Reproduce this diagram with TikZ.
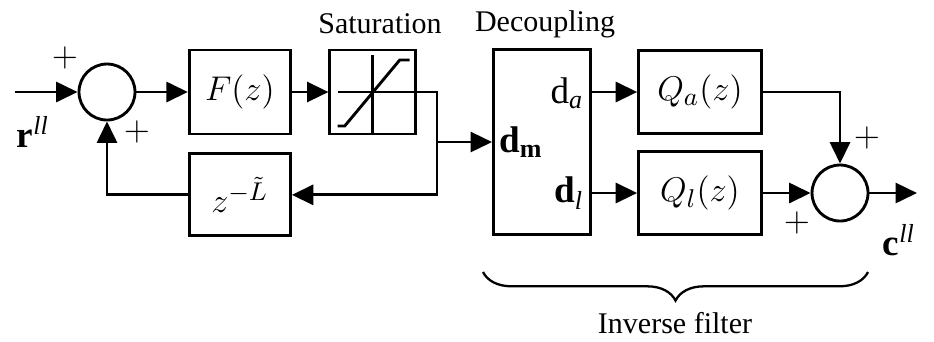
\documentclass[tikz,border=0pt]{standalone}
\usepackage{fontspec}
\setmainfont{Liberation Serif}
\usepackage{tikz}
\usetikzlibrary{arrows.meta, positioning, decorations.pathreplacing}

\tikzset{
  blk/.style={draw, line width=1pt, minimum width=35.4pt, minimum height=29.4pt,
              font=\fontsize{13}{15}\selectfont},
  sumnode/.style={draw, circle, line width=1pt, minimum size=19.6pt, inner sep=0pt},
  lbl/.style={font=\fontsize{10.5}{12}\selectfont},
  sig/.style={font=\fontsize{13}{15}\selectfont, inner sep=0pt},
  pls/.style={font=\fontsize{12}{14}\selectfont, inner sep=0pt},
}

\begin{document}
\begin{tikzpicture}[x=0.35pt, y=-0.35pt, on grid, auto, line width=1pt,
                    >={Triangle[length=7.5pt, width=7pt]}]
        \useasboundingbox (0,0) rectangle (934,341);

        % loop part
        \node[sumnode] (s1) at (107,92) {};
        \node[blk, right=46.5pt of s1] (F) {$F(z)$};
        \node[blk, right=46.5pt of F, minimum width=30pt] (sat) {};
        \node[blk, below=36pt of F, minimum height=28.7pt] (del) {$z^{-\tilde{L}}$};
        \node[lbl] (satlbl) at (380,24) {Saturation};

        % decoupling and inverse filter
        \node[blk, minimum width=34pt, minimum height=64.8pt] (dec) at (542,142) {};
        \node[lbl] (declbl) at (545,24) {Decoupling};
        \node[sig, anchor=west] (dm) at ([xshift=2pt]dec.west) {\textbf{d}\textsubscript{\textbf{m}}};
        \node[sig, anchor=east] (da) at (585,93) {d\textsubscript{\textit{a}}};
        \node[sig, anchor=east] (dl) at (585,193) {\textbf{d}\textsubscript{\textit{l}}};
        \node[blk, minimum width=43pt, minimum height=29pt] (Qa) at (700,92) {$Q_a(z)$};
        \node[blk, minimum width=43pt, minimum height=29pt] (Ql) at (700,193) {$Q_l(z)$};
        \node[sumnode] (s2) at (840,193) {};

        % signals and signs
        \coordinate (in) at (15,92);
        \coordinate (out) at (917,193);
        \coordinate (br) at (437,142);
        \node[sig] (r) at (33,132) {\textbf{r}\textsuperscript{\textit{ll}}};
        \node[sig] (c) at (899,240) {\textbf{c}\textsuperscript{\textit{ll}}};
        \node[pls] (p1) at (65,58) {$+$};
        \node[pls] (p2) at (137,132) {$+$};
        \node[pls] (p3) at (867,138) {$+$};
        \node[pls] (p4) at (797,223) {$+$};

        % saturation characteristic
        \draw[shift={(sat.center)}] (0,-37) -- (0,43);
        \draw[shift={(sat.center)}] (-35,34) -- (-28,34) -- (27,-32) -- (37,-32);

        \draw[->] (in) -- (s1.west);
        \draw[->] (s1.east) -- (F.west);
        \draw[->] (F.east) -- (sat.west);
        \draw[->] ([xshift=-12.25pt]sat.center) -| (br) |- (del.east);
        \draw[->] (br) -- (dec.west);
        \draw[->] (del.west) -| (s1.south);
        \draw[->] (dec.east |- Qa.west) -- (Qa.west);
        \draw[->] (dec.east |- Ql.west) -- (Ql.west);
        \draw[->] (Qa.east) -| (s2.north);
        \draw[->] (Ql.east) -- (s2.west);
        \draw[->] (s2.east) -- (out);

        % inverse filter brace
        \coordinate (bl) at (483,272);
        \coordinate (bR) at (868,272);
        \draw[line width=0.8pt, decorate, decoration={brace, mirror, amplitude=10pt}] (bl) -- (bR);
        \node[lbl] (inv) at (675,323) {Inverse filter};
\end{tikzpicture}
\end{document}
